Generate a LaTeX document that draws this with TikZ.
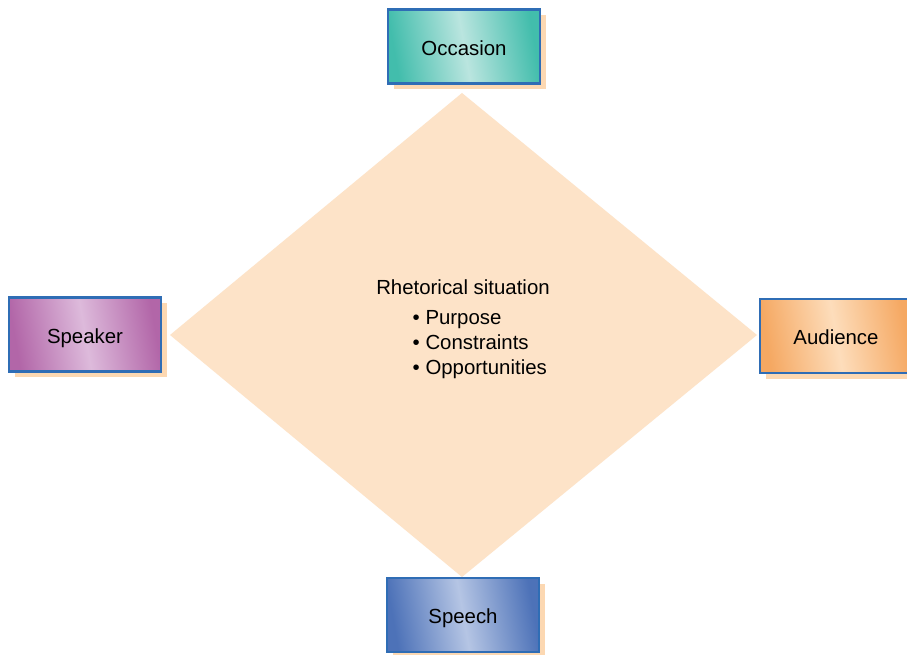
\documentclass[tikz,border=0pt]{standalone}
\usepackage{fontspec}
\setmainfont{Liberation Sans}
\definecolor{diamondfill}{HTML}{FDE3C8}
\definecolor{shadowfill}{HTML}{FCD8B2}
\definecolor{tileborder}{HTML}{2F6DB5}
\definecolor{tealedge}{HTML}{42BDAC}
\definecolor{tealmid}{HTML}{BAE5DF}
\definecolor{plumedge}{HTML}{B266A8}
\definecolor{plummid}{HTML}{DDBADB}
\definecolor{orangeedge}{HTML}{F5A862}
\definecolor{orangemid}{HTML}{FDDDBB}
\definecolor{blueedge}{HTML}{4D72B8}
\definecolor{bluemid}{HTML}{B5C5E4}
\tikzset{
  labeltext/.style={font=\fontsize{15.3}{18.75}\selectfont, text=black},
  tile/.style={draw=tileborder, line width=1.9pt, minimum width=114pt,
    minimum height=55.5pt, inner sep=0pt, labeltext,
    text height=13pt, text depth=0pt,
    left color=#1edge, right color=#1edge, middle color=#1mid, shading angle=100},
  tileshadow/.style={fill=shadowfill, draw=none, minimum width=114pt,
    minimum height=55.5pt, inner sep=0pt},
}
\begin{document}
\begin{tikzpicture}[x=0.75pt,y=-0.75pt]
  \useasboundingbox (0,0) rectangle (907,655);
  \clip (0,0) rectangle (907,655);
  \fill[white] (0,0) rectangle (907,655);

  % central diamond
  \coordinate (top) at (462,93);
  \coordinate (right) at (757,335);
  \coordinate (bottom) at (462,577);
  \coordinate (left) at (170,335);
  \fill[diamondfill] (top) -- (right) -- (bottom) -- (left) -- cycle;

  \node[labeltext] (title) at (463,287) {Rhetorical situation};
  \node[labeltext, anchor=west, align=left] (list) at (408,345)
    {• Purpose\\• Constraints\\• Opportunities};

  % drop shadows
  \node[tileshadow] (occasionshadow) at (470,52.5) {};
  \node[tileshadow] (speakershadow) at (91,340.5) {};
  \node[tileshadow] (audienceshadow) at (842,342) {};
  \node[tileshadow] (speechshadow) at (469,621) {};

  % the four tiles
  \node[tile=teal] (occasion) at (464,46.5) {Occasion};
  \node[tile=plum] (speaker) at (85,334.5) {Speaker};
  \node[tile=orange] (audience) at (836,336) {Audience};
  \node[tile=blue] (speech) at (463,615) {Speech};
\end{tikzpicture}
\end{document}
